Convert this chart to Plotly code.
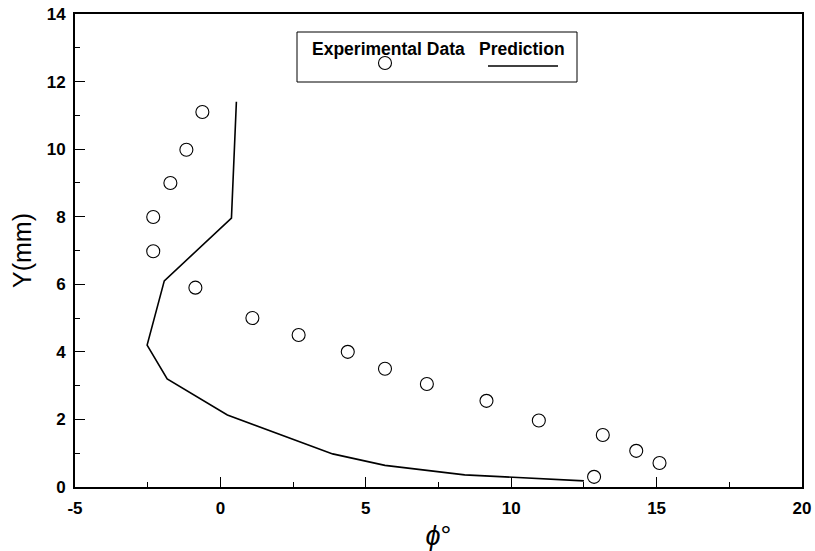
import plotly.graph_objects as go

# Experimental data (phi in degrees, Y in mm)
exp_phi = [12.85, 15.1, 14.3, 13.15, 10.95, 9.15, 7.1, 5.66, 4.38, 2.69, 1.1, -0.86, -2.31, -2.31, -1.72, -1.17, -0.62]
exp_y = [0.3, 0.71, 1.07, 1.54, 1.97, 2.55, 3.05, 3.5, 4.0, 4.5, 5.0, 5.9, 6.98, 7.99, 9.0, 9.98, 11.1]

# Prediction line
pred_phi = [12.5, 8.4, 5.66, 3.86, 0.24, -1.83, -2.52, -1.93, 0.38, 0.55]
pred_y = [0.18, 0.36, 0.64, 0.98, 2.13, 3.2, 4.2, 6.1, 7.96, 11.4]

x_ticks = [-5, 0, 5, 10, 15, 20]
y_ticks = [0, 2, 4, 6, 8, 10, 12, 14]

FONT = "Liberation Sans, Arial, Helvetica"

fig = go.Figure()
fig.add_trace(go.Scatter(x=pred_phi, y=pred_y, mode="lines",
                         line=dict(color="black", width=1.6), showlegend=False))
fig.add_trace(go.Scatter(x=exp_phi, y=exp_y, mode="markers",
                         marker=dict(symbol="circle-open", size=13, color="black",
                                     line=dict(width=1.1, color="black")),
                         showlegend=False))

fig.update_layout(
    width=815, height=551,
    margin=dict(l=75, r=13, t=14, b=64),
    plot_bgcolor="white", paper_bgcolor="white",
    showlegend=False,
    xaxis=dict(range=[-5, 20], tickvals=x_ticks, ticktext=[str(v) for v in x_ticks],
               ticks="inside", ticklen=10, tickwidth=1, tickcolor="black",
               minor=dict(dtick=2.5, tick0=0, ticks="inside", ticklen=5, tickcolor="black"),
               showline=True, linecolor="black", linewidth=2, mirror=True,
               showgrid=False, zeroline=False, ticklabelstandoff=5, automargin=False,
               tickfont=dict(family=FONT, size=17, color="black", weight="bold"),
               title=dict(text="<i>ϕ</i>°", font=dict(family=FONT, size=27, color="black"),
                          standoff=10)),
    yaxis=dict(range=[0, 14], tickvals=y_ticks, ticktext=[str(v) for v in y_ticks],
               ticks="inside", ticklen=10, tickwidth=1, tickcolor="black",
               minor=dict(dtick=1, tick0=0, ticks="inside", ticklen=5, tickcolor="black"),
               showline=True, linecolor="black", linewidth=2, mirror=True,
               showgrid=False, zeroline=False, ticklabelstandoff=4, automargin=False,
               tickfont=dict(family=FONT, size=17, color="black", weight="bold"),
               title=dict(text="Y(mm)", font=dict(family=FONT, size=25, color="black"),
                          standoff=8)),
)

# Custom legend box (paper coords)
L, R, T, B = 75, 13, 14, 64
W, H = 815 - L - R, 551 - T - B
def px(x):
    return (x - L) / W
def py(y):
    return (551 - B - y) / H

fig.add_shape(type="rect", xref="paper", yref="paper",
              x0=px(297), x1=px(577), y0=py(82), y1=py(32),
              line=dict(color="black", width=1), fillcolor="white", layer="above")
fig.add_annotation(xref="paper", yref="paper", x=px(388), y=py(49), text="Experimental Data",
                   showarrow=False, font=dict(family=FONT, size=17.5, color="black", weight="bold"),
                   xanchor="center", yanchor="middle")
fig.add_annotation(xref="paper", yref="paper", x=px(521.5), y=py(49), text="Prediction",
                   showarrow=False, font=dict(family=FONT, size=17.5, color="black", weight="bold"),
                   xanchor="center", yanchor="middle")
fig.add_shape(type="circle", xref="paper", yref="paper",
              x0=px(378.5), x1=px(391.5), y0=py(69.5), y1=py(56.5),
              line=dict(color="black", width=1.1), layer="above")
fig.add_shape(type="line", xref="paper", yref="paper",
              x0=px(488), x1=px(558), y0=py(66), y1=py(66),
              line=dict(color="black", width=1.4), layer="above")

fig.write_html("out.html")
